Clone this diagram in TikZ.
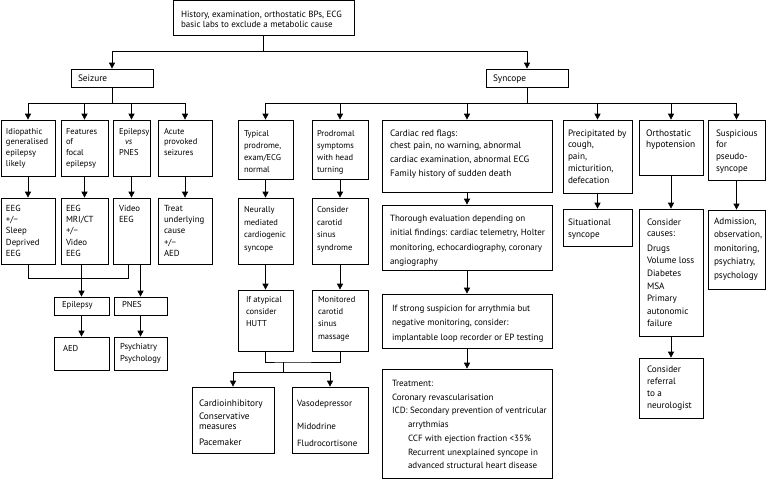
\documentclass[tikz,border=0pt]{standalone}
\usepackage{fontspec}
\setmainfont{PT Sans}
\usetikzlibrary{arrows.meta}
\pgfkeys{/bx/.cd,fo/.store in=\bxfo,bs/.store in=\bxbs,px/.store in=\bxpx,fs/.store in=\bxfs}
\tikzset{
  box/.style={draw=black,fill=white,inner sep=0pt,line width=0.7pt},
  conn/.style={line width=0.7pt,draw=black},
  arr/.style={conn,-{Triangle[length=6pt,width=6pt]}}
}
\newcommand\bx[7][]{%
  \begingroup
  \pgfkeys{/bx/.cd,fo=14,bs=11,px=6,fs=9,#1}%
  \pgfmathsetmacro\bxw{#5-#3}\pgfmathsetmacro\bxh{#6-#4}%
  \node[box,minimum width=\bxw pt,minimum height=\bxh pt] (#2) at ({(#3+#5)/2},{(#4+#6)/2})
    {\fontsize{\bxfs pt}{\bxbs pt}\selectfont\parbox[c][\bxh pt][t]{\bxw pt}{\raggedright\leftskip=\bxpx pt\parindent=0pt\baselineskip=\bxbs pt\lineskiplimit=-5pt\rule{0pt}{\bxfo pt}#7}};
  \endgroup}
\begin{document}
\begin{tikzpicture}[x=1pt,y=-1pt]
\useasboundingbox (0,0) rectangle (767,479);
% top
\bx[fo=16.5,bs=10.5,px=8,fs=9]{top}{173}{0.5}{354}{35}{History, examination, orthostatic BPs, ECG\\basic labs to exclude a metabolic cause}
\bx[fo=12,px=7,fs=9.3]{seizure}{71}{69}{153}{87}{Seizure}
\bx[fo=12,px=7,fs=9.3]{syncope}{486}{69}{568}{87}{Syncope}
% seizure branch
\bx[fo=14,bs=10.9,px=5,fs=8.5]{igel}{1}{120}{55}{176}{Idiopathic\\generalised\\epilepsy\\likely}
\bx[fo=14,bs=10.9,px=5,fs=8.5]{focal}{61}{120}{108}{176}{Features\\of\\focal\\epilepsy}
\bx[fo=14,bs=10.9,px=6,fs=8.5]{evp}{113}{120}{150}{176}{Epilepsy\\\hspace*{6pt}\textit{vs}\\PNES}
\bx[fo=14,bs=10.9,px=6,fs=8.5]{acute}{158}{120}{212}{176}{Acute\\provoked\\seizures}
\bx[fo=13.5,bs=11.2,px=5,fs=8.8]{eeg1}{1}{198}{55}{264}{EEG\\+/−\\Sleep\\Deprived\\EEG}
\bx[fo=13.5,bs=11.2,px=5,fs=8.8]{eeg2}{61}{198}{108}{264}{EEG\\MRI/CT\\+/−\\Video\\EEG}
\bx[fo=13.5,bs=11.2,px=6,fs=8.8]{vid}{113}{198}{150}{264}{Video\\EEG}
\bx[fo=13.5,bs=11.2,px=6,fs=8.8]{treat}{158}{198}{212}{264}{Treat\\underlying\\cause\\+/−\\AED}
\bx[fo=10.5,px=8,fs=8.6]{epi}{54}{297}{109}{315}{Epilepsy}
\bx[fo=10.5,px=8,fs=8.6]{pnes}{114}{297}{167}{315}{PNES}
\bx[fo=14,px=9,fs=8.6]{aed}{54}{337}{109}{370}{AED}
\bx[fo=12,bs=12,px=6,fs=8.6]{psy}{114}{337}{167}{370}{Psychiatry\\Psychology}
% syncope branch
\bx[fo=16,bs=12.2,px=6,fs=8.5]{typ}{238}{120}{293}{179}{Typical\\prodrome,\\exam/ECG\\normal}
\bx[fo=16,bs=12.2,px=5,fs=8.5]{prod}{312}{120}{368}{179}{Prodromal\\symptoms\\with head\\turning}
\bx[fo=14.5,bs=12.7,px=6,fs=8.5]{neur}{238}{198}{293}{264}{Neurally\\mediated\\cardiogenic\\syncope}
\bx[fo=14.5,bs=12.7,px=5,fs=8.5]{csin}{312}{198}{368}{264}{Consider\\carotid\\sinus\\syndrome}
\bx[fo=12.5,bs=12.2,px=8,fs=8.5]{hutt}{238}{290}{293}{351}{If atypical\\consider\\HUTT}
\bx[fo=12.5,bs=12.2,px=6,fs=8.5]{monit}{312}{290}{368}{351}{Monitored\\carotid\\sinus\\massage}
\bx[fo=19,bs=10,px=7,fs=9.3]{cardio}{192}{387}{274}{453}{Cardioinhibitory\\[3pt]Conservative\\measures\\[6.5pt]Pacemaker}
\bx[fo=19,bs=10,px=5,fs=9]{vaso}{292}{387}{368}{453}{Vasodepressor\\[13.5pt]Midodrine\\[6.5pt]Fludrocortisone}
\bx[fo=16.5,bs=14,px=8,fs=9.2]{cardiac}{382}{120}{552}{192}{Cardiac red flags:\\[-2.5pt]chest pain, no warning, abnormal\\cardiac examination, abnormal ECG\\Family history of sudden death}
\bx[fo=16.5,bs=14.4,px=8,fs=9]{thor}{382}{205}{552}{270}{Thorough evaluation depending on\\initial findings: cardiac telemetry, Holter\\monitoring, echocardiography, coronary\\angiography}
\bx[fo=17.5,bs=14.3,px=10,fs=9]{strong}{382}{294}{552}{348}{If strong suspicion for arrythmia but\\negative monitoring, consider:\\implantable loop recorder or EP testing}
\bx[fo=17.5,bs=13.7,px=10,fs=9]{treatm}{382}{369}{552}{478}{Treatment:\\Coronary revascularisation\\ICD: Secondary prevention of ventricular\\\hspace*{16pt}arrythmias\\\hspace*{16pt}CCF with ejection fraction <35\%\\\hspace*{16pt}Recurrent unexplained syncope in\\\hspace*{16pt}advanced structural heart disease}
\bx[fo=16,bs=11.9,px=5,fs=9.2]{precip}{563}{120}{632}{193}{Precipitated by\\cough,\\pain,\\micturition,\\defecation}
\bx[fo=16,bs=11,px=7,fs=9.4]{ortho}{639}{120}{703}{175}{Orthostatic\\hypotension}
\bx[fo=16,bs=11.7,px=8,fs=9.2]{susp}{708}{120}{765}{180}{Suspicious\\for\\pseudo-\\syncope}
\bx[fo=16,bs=12.5,px=5,fs=9.2]{situ}{563}{209}{632}{246}{Situational\\syncope}
\bx[fo=16,bs=12.6,px=8,fs=9.2]{causes}{639}{209}{703}{336}{Consider\\[-1pt]causes:\\[2pt]Drugs\\Volume loss\\Diabetes\\MSA\\Primary\\autonomic\\failure}
\bx[fo=14.5,bs=12,px=8,fs=9.2]{ref}{639}{358}{703}{418}{Consider\\referral\\to a\\neurologist}
\bx[fo=14,bs=13.6,px=6,fs=9.2]{adm}{708}{210}{765}{289}{Admission,\\observation,\\monitoring,\\psychiatry,\\psychology}
% connectors: top
\coordinate (j0) at (263.5,51);
\draw[conn] (top.south) -- (j0);
\draw[arr] (j0) -| (seizure.north);
\draw[arr] (j0) -| (syncope.north);
% seizure
\coordinate (j1) at (112,103);
\draw[conn] (seizure.south) -- (j1);
\foreach \n in {igel,focal,evp,acute} \draw[arr] (j1) -| (\n.north);
\draw[arr] (igel) -- (eeg1);
\draw[arr] (focal) -- (eeg2);
\draw[arr] (evp) -- (vid);
\draw[arr] (acute) -- (treat);
\coordinate (j2) at (28,278);
\coordinate (j2b) at (128,278);
\draw[conn] (eeg1.south) -- (j2) -- (j2b) -- (j2b |- vid.south);
\draw[arr] (eeg2.south -| epi.north) -- (epi.north);
\draw[arr] (vid.south -| pnes.north) -- (pnes.north);
\draw[arr] (epi) -- (aed);
\draw[arr] (pnes) -- (psy);
% syncope
\coordinate (j3) at (527,103);
\draw[conn] (syncope.south) -- (j3);
\foreach \n in {typ,prod,cardiac,precip,ortho,susp} \draw[arr] (j3) -| (\n.north);
\draw[arr] (typ) -- (neur);
\draw[arr] (neur) -- (hutt);
\draw[arr] (prod) -- (csin);
\draw[arr] (csin) -- (monit);
\coordinate (j4) at (283,362);
\coordinate (j5) at (283,372);
\draw[conn] (hutt.south) |- (j4) -| (monit.south);
\draw[conn] (j4) -- (j5);
\draw[arr] (j5) -| (cardio.north);
\draw[arr] (j5) -| (vaso.north);
\draw[arr] (cardiac) -- (thor);
\draw[arr] (thor) -- (strong);
\draw[arr] (strong) -- (treatm);
\draw[arr] (precip) -- (situ);
\draw[arr] (ortho) -- (causes);
\draw[arr] (causes) -- (ref);
\draw[arr] (susp) -- (adm);
\end{tikzpicture}
\end{document}
